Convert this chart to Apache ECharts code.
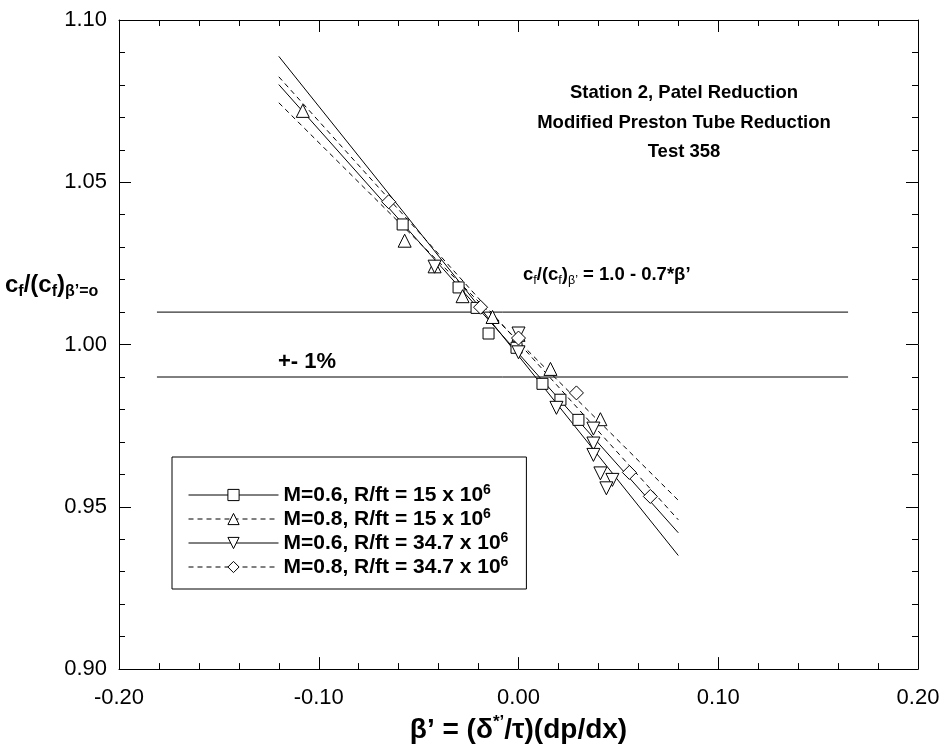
<!DOCTYPE html>
<html><head><meta charset="utf-8">
<script src="https://cdn.jsdelivr.net/npm/echarts@6/dist/echarts.min.js"></script>
<style>html,body{margin:0;padding:0;background:#fff}#c{width:943px;height:751px}</style>
</head><body><div id="c"></div>
<script>
// ---- data ----
const xTickLabels = ['-0.20','-0.10','0.00','0.10','0.20'];
const yTickLabels = ['0.90','0.95','1.00','1.05','1.10'];
const seriesNames = [
  'M=0.6, R/ft = 15 x 10',
  'M=0.8, R/ft = 15 x 10',
  'M=0.6, R/ft = 34.7 x 10',
  'M=0.8, R/ft = 34.7 x 10'
];
// measured points [beta', cf ratio]
const ptsSquare = [[-0.058,1.037],[-0.030,1.0176],[-0.021,1.0113],[-0.015,1.0034],[-0.001,0.999],[0.012,0.9879],[0.021,0.983],[0.030,0.9768]];
const ptsTriUp = [[-0.108,1.072],[-0.057,1.032],[-0.042,1.0241],[-0.028,1.0149],[-0.013,1.0085],[0.000,1.003],[0.016,0.9925],[0.041,0.977]];
const ptsTriDown = [[-0.042,1.024],[0.000,1.0034],[0.000,0.9976],[0.019,0.9805],[0.0375,0.9741],[0.0375,0.9695],[0.0375,0.966],[0.041,0.9603],[0.047,0.9583],[0.044,0.9557]];
const ptsDiamond = [[-0.065,1.044],[-0.019,1.0115],[0.000,1.002],[0.029,0.9851],[0.0555,0.9606],[0.066,0.9532]];
// fitted lines
const fitX = [-0.12, 0.08];
const fitSquare = [1.0801, 0.942];
const fitTriUp = [1.0745, 0.952];
const fitTriDown = [1.0888, 0.935];
const fitDiamond = [1.0825, 0.946];
// +-1% band lines
const bandX = [-0.181, 0.165];
const bandUpper = [1.01, 1.01];
const bandLower = [0.99, 0.99];

// ---- chart ----
const FF = '"Liberation Sans", Arial, sans-serif';
const downTri = 'path://M0,0 L10,0 L5,9 Z';
const symbols = ['rect','triangle',downTri,'diamond'];
const symSizes = [11,13,13,14];
const dashed = [false,true,false,true];
const fits = [fitSquare, fitTriUp, fitTriDown, fitDiamond];
const pts = [ptsSquare, ptsTriUp, ptsTriDown, ptsDiamond];
const zip = (xs, ys) => xs.map((x,i)=>[x, ys[i]]);

const series = [];
for (let i=0;i<4;i++){
  series.push({
    name: seriesNames[i], type:'line', data: zip(fitX, fits[i]),
    symbol: symbols[i], symbolSize: symSizes[i], showSymbol:false,
    itemStyle:{color:'#fff', borderColor:'#000', borderWidth:1},
    lineStyle:{color:'#000', width:1, type: dashed[i] ? [5,4] : 'solid'},
    silent:true, z:2
  });
}
for (let i=0;i<4;i++){
  series.push({
    name: seriesNames[i], type:'scatter', data: pts[i],
    symbol: symbols[i], symbolSize: symSizes[i],
    itemStyle:{color:'#fff', borderColor:'#000', borderWidth:1, opacity:1},
    z:3
  });
}
series.push({type:'line', data: zip(bandX, bandUpper), symbol:'none', lineStyle:{color:'#000', width:1}, z:1});
series.push({type:'line', data: zip(bandX, bandLower), symbol:'none', lineStyle:{color:'#000', width:1}, z:1});

const axisCommon = {
  type:'value', axisLine:{onZero:false, lineStyle:{color:'#000', width:1}},
  axisTick:{inside:true, length:12, lineStyle:{color:'#000'}},
  minorTick:{show:true, splitNumber:5, length:6, lineStyle:{color:'#000'}},
  splitLine:{show:false}
};
const xIdx = v => Math.round((v+0.2)/0.1);
const yIdx = v => Math.round((v-0.9)/0.05);

const option = {
  animation:false,
  backgroundColor:'#fff',
  grid:{left:119, right:25, top:20, bottom:77},
  legend:{
    data: seriesNames, orient:'vertical', left:172, top:457,
    itemWidth:90, itemHeight:14, itemGap:0,
    padding:[26,18,10,16],
    borderColor:'#000', borderWidth:1,
    lineStyle:{width:1, color:'#000'},
    itemStyle:{borderWidth:1, borderColor:'#000', color:'#fff'},
    formatter: n => '{a|' + n + '}{s|6}',
    textStyle:{color:'#000', fontFamily:FF, fontSize:21, fontWeight:'bold',
      rich:{a:{fontFamily:FF, fontSize:21, fontWeight:'bold', lineHeight:24},
            s:{fontFamily:FF, fontSize:14, fontWeight:'bold', lineHeight:14, padding:[0,0,10,0]}}}
  },
  xAxis:[
    Object.assign({}, axisCommon, {min:-0.2, max:0.2, interval:0.1, position:'bottom',
      axisLabel:{formatter:v=>xTickLabels[xIdx(v)], color:'#000', fontSize:22, fontFamily:FF, margin:18},
      name:'{m|β’ = (δ}{s|*’}{m|/τ)(dp/dx)}', nameLocation:'middle', nameGap:43,
      nameTextStyle:{color:'#000', fontFamily:FF, fontSize:28, fontWeight:'bold',
        rich:{m:{fontFamily:FF, fontSize:28, fontWeight:'bold', lineHeight:32},
              s:{fontFamily:FF, fontSize:17, fontWeight:'bold', lineHeight:17, padding:[0,0,15,0]}}}}),
    Object.assign({}, axisCommon, {min:-0.2, max:0.2, interval:0.1, position:'top', axisLabel:{show:false}})
  ],
  yAxis:[
    Object.assign({}, axisCommon, {min:0.9, max:1.1, interval:0.05, position:'left',
      axisLabel:{formatter:v=>yTickLabels[yIdx(v)], color:'#000', fontSize:22, fontFamily:FF, margin:12}}),
    Object.assign({}, axisCommon, {min:0.9, max:1.1, interval:0.05, position:'right', axisLabel:{show:false}})
  ],
  series: series,
  graphic:[
    {type:'text', style:{text:'Station 2, Patel Reduction', x:684, y:93, textAlign:'center', textVerticalAlign:'middle', font:'bold 18.5px '+FF, fill:'#000'}},
    {type:'text', style:{text:'Modified Preston Tube Reduction', x:684, y:123, textAlign:'center', textVerticalAlign:'middle', font:'bold 18.5px '+FF, fill:'#000'}},
    {type:'text', style:{text:'Test 358', x:684, y:152, textAlign:'center', textVerticalAlign:'middle', font:'bold 18.5px '+FF, fill:'#000'}},
    {type:'text', style:{x:523, y:275, textVerticalAlign:'middle',
      text:'{m|c}{b|f}{m|/(c}{b|f}{m|)}{b|β’}{m| = 1.0 - 0.7*β’}',
      rich:{m:{fontFamily:FF, fontSize:18.5, fontWeight:'bold', lineHeight:24, fill:'#000'},
            b:{fontFamily:FF, fontSize:12.5, lineHeight:12, padding:[12,0,0,0], fill:'#000'}}}},
    {type:'text', style:{x:278, y:362, textVerticalAlign:'middle', text:'+- 1%', font:'bold 22px '+FF, fill:'#000'}},
    {type:'text', style:{x:5, y:285, textVerticalAlign:'middle',
      text:'{m|c}{b|f}{m|/(c}{b|f}{m|)}{b|β’=o}',
      rich:{m:{fontFamily:FF, fontSize:24, fontWeight:'bold', lineHeight:30, fill:'#000'},
            b:{fontFamily:FF, fontSize:16, fontWeight:'bold', lineHeight:16, padding:[14,0,0,0], fill:'#000'}}}}
  ]
};
echarts.init(document.getElementById('c'), null, {renderer:'canvas'}).setOption(option);
</script></body></html>
